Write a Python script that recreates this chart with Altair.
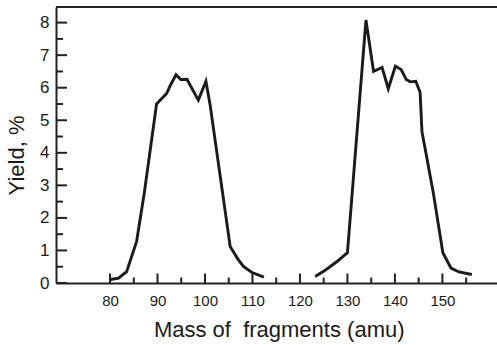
import altair as alt
import pandas as pd

# Curve 1 (lighter fragments)
mass_1 = [79.8, 81.8, 83.5, 85.6, 87.2, 89.8, 90.9, 91.9, 92.8, 93.9, 94.9, 96.2, 98.6,
          100.2, 101.1, 105.3, 107.0, 108.1, 109.8, 112.4]
yield_1 = [0.10, 0.15, 0.35, 1.28, 2.75, 5.50, 5.67, 5.82, 6.10, 6.40, 6.25, 6.26, 5.62,
           6.20, 5.45, 1.12, 0.72, 0.51, 0.33, 0.18]

# Curve 2 (heavier fragments)
mass_2 = [123.2, 125.3, 127.8, 130.0, 133.9, 135.5, 137.3, 138.6, 140.1, 141.3,
          142.4, 143.2, 144.4, 145.3, 145.7, 148.1, 150.1, 151.8, 153.5, 156.2]
yield_2 = [0.20, 0.39, 0.66, 0.93, 8.08, 6.50, 6.62, 5.97, 6.66, 6.56,
           6.25, 6.18, 6.20, 5.86, 4.65, 2.76, 0.93, 0.46, 0.34, 0.26]

x_major = [80, 90, 100, 110, 120, 130, 140, 150]
x_minor = [85, 95, 105, 115, 125, 135, 145, 155]
y_major = [0, 1, 2, 3, 4, 5, 6, 7, 8]
y_minor = [0.5, 1.5, 2.5, 3.5, 4.5, 5.5, 6.5, 7.5]

x_title = "Mass of\u00a0 fragments (amu)"
y_title = "Yield, %"

W, H = 441, 276
FONT = "Liberation Sans"
INK = "#1a1a1a"

df = pd.DataFrame({
    "x": mass_1 + mass_2,
    "y": yield_1 + yield_2,
    "curve": ["a"] * len(mass_1) + ["b"] * len(mass_2),
})

xs = alt.Scale(domain=[68.62, 161.5], nice=False, zero=False)
ys = alt.Scale(domain=[0, 8.48], nice=False, zero=False)

x_axis = alt.Axis(
    values=x_major, ticks=False, tickSize=0, grid=False,
    domainColor="#222", domainWidth=2,
    labelFont=FONT, labelFontSize=15, labelColor=INK, labelPadding=10,
    title=x_title, titleFont=FONT, titleFontSize=22, titleFontWeight="normal",
    titleColor=INK, titleX=222.7, titleY=53.4, titleAlign="center",
    titleBaseline="alphabetic")
y_axis = alt.Axis(
    values=y_major, ticks=False, tickSize=0, grid=False,
    domainColor="#222", domainWidth=2,
    labelFont=FONT, labelFontSize=17, labelColor=INK, labelPadding=7,
    title=y_title, titleFont=FONT, titleFontSize=22, titleFontWeight="normal",
    titleColor=INK, titleX=-32.5, titleY=148, titleAngle=270, titleAlign="center",
    titleBaseline="alphabetic")

X = alt.X("x:Q", scale=xs, axis=x_axis)
Y = alt.Y("y:Q", scale=ys, axis=y_axis)

lines = alt.Chart(df).mark_line(color=INK, strokeWidth=2.9, strokeJoin="miter").encode(
    x=X, y=Y, detail="curve:N")

xmaj = alt.Chart(pd.DataFrame({"x": x_major})).mark_rule(color="#222", strokeWidth=2).encode(
    x=X, y=alt.value(H), y2=alt.value(H - 9.5))
xmin = alt.Chart(pd.DataFrame({"x": x_minor})).mark_rule(color="#222", strokeWidth=2).encode(
    x=X, y=alt.value(H), y2=alt.value(H - 5.5))
ymaj = alt.Chart(pd.DataFrame({"y": y_major})).mark_rule(color="#222", strokeWidth=2).encode(
    y=Y, x=alt.value(0), x2=alt.value(11))
ymin = alt.Chart(pd.DataFrame({"y": y_minor})).mark_rule(color="#222", strokeWidth=2).encode(
    y=Y, x=alt.value(0), x2=alt.value(7))
top = alt.Chart(pd.DataFrame({"k": [0]})).mark_rule(color="#222", strokeWidth=2).encode(
    x=alt.value(0), x2=alt.value(W), y=alt.value(0))

chart = alt.layer(lines, xmaj, xmin, ymaj, ymin, top).properties(
    width=W, height=H,
    autosize=alt.AutoSizeParams(type="none"),
    padding={"left": 56, "top": 7, "right": 0, "bottom": 62},
    background="white",
).configure_view(stroke=None)

chart.save("out.html", embed_options={"renderer": "svg", "actions": False})
